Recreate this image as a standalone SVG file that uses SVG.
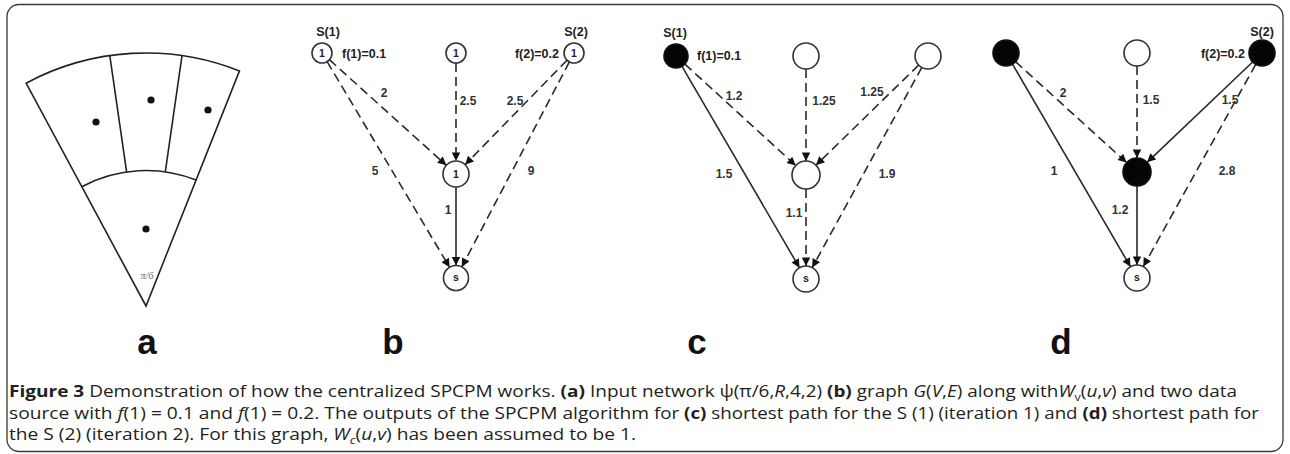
<svg xmlns="http://www.w3.org/2000/svg" width="1290" height="454" viewBox="0 0 1290 454">
  <defs>
    <style>
      .frame{fill:none;stroke:#3a3a3a;stroke-width:1.3}
      .sector{fill:none;stroke:#222;stroke-width:1.6}
      .dot{fill:#111}
      .node{fill:#fff;stroke:#333;stroke-width:1.6}
      .on{fill:#050505;stroke:#111}
      .edge{fill:none;stroke:#2a2a2a;stroke-width:1.6;marker-end:url(#arrow)}
      .dash{stroke-dasharray:9 5}
      .nl{font-family:"Liberation Sans",Arial,sans-serif;font-weight:bold;font-size:10.5px;fill:#222;text-anchor:middle}
      .lab{font-family:"Liberation Sans",Arial,sans-serif;font-weight:bold;font-size:12px;fill:#333;text-anchor:middle}
      .tag{font-family:"Liberation Sans",Arial,sans-serif;font-weight:bold;font-size:12.5px;fill:#222}
      .panel{font-family:"Liberation Sans",Arial,sans-serif;font-weight:bold;font-size:35px;fill:#111;text-anchor:middle}
      .cap{font-family:"Open Sans","Liberation Sans",sans-serif;font-size:16.5px;fill:#231f20}
      .b{font-weight:bold}
      .i{font-style:italic}
    </style>
    <marker id="arrow" viewBox="0 0 10 10" refX="10" refY="5" markerWidth="10" markerHeight="8.5" markerUnits="userSpaceOnUse" orient="auto">
      <path d="M0,0 L10,5 L0,10 z" fill="#111"/>
    </marker>
  </defs>

  <rect class="frame" x="7" y="4.5" width="1276" height="447" rx="12"/>

  <!-- (a) sector network -->
  <g id="sector">
    <path class="sector" d="M146,306 L26.1,83.2 A253,253 0 0 1 239.5,70.9 Z"/>
    <path class="sector" d="M81.8,186.7 A135.5,135.5 0 0 1 196.1,180.1"/>
    <path class="sector" d="M109.8,55.6 L126.6,171.9 M182,55.6 L165.3,171.9"/>
    <circle class="dot" cx="96" cy="122" r="3.6"/>
    <circle class="dot" cx="151" cy="100" r="3.6"/>
    <circle class="dot" cx="208" cy="110" r="3.6"/>
    <circle class="dot" cx="146" cy="229" r="3.6"/>
    <text x="147" y="279" font-family="Liberation Serif,serif" font-style="italic" font-size="10" fill="#666" text-anchor="middle">π/6</text>
  </g>

  <!-- edges -->
  <g id="connectors">
    <!-- (b) -->
    <path class="edge dash" d="M329.4,59.7 L446.3,165.3"/>
    <path class="edge dash" d="M327.1,61.6 L449.6,267.3"/>
    <path class="edge dash" d="M456,63 L456,161"/>
    <path class="edge dash" d="M567,60.2 L465.1,164.7"/>
    <path class="edge dash" d="M569.4,61.9 L461.8,266.9"/>
    <path class="edge" d="M456,187 L456,265.5"/>
    <!-- (c) -->
    <path class="edge dash" d="M684.9,64.1 L795.7,165.5"/>
    <path class="edge" d="M682,66.4 L799.5,267.8"/>
    <path class="edge dash" d="M806,69 L806,161"/>
    <path class="edge dash" d="M918.7,65.1 L816,165.2"/>
    <path class="edge dash" d="M921.8,67.4 L812.2,267.6"/>
    <path class="edge dash" d="M806,189 L806,266"/>
    <!-- (d) -->
    <path class="edge dash" d="M1015.6,61.7 L1126.6,162.6"/>
    <path class="edge" d="M1012.5,64.2 L1130.5,266.8"/>
    <path class="edge dash" d="M1137,66 L1137,158"/>
    <path class="edge" d="M1252.6,62 L1147.1,162.3"/>
    <path class="edge dash" d="M1255.7,64.4 L1143.3,266.6"/>
    <path class="edge" d="M1137,186 L1137,265"/>
  </g>

  <!-- edge weights -->
  <g id="weights">
    <text class="lab" x="384" y="97">2</text>
    <text class="lab" x="375" y="175">5</text>
    <text class="lab" x="468" y="105">2.5</text>
    <text class="lab" x="515" y="105">2.5</text>
    <text class="lab" x="531" y="175">9</text>
    <text class="lab" x="448" y="214">1</text>

    <text class="lab" x="734" y="100">1.2</text>
    <text class="lab" x="724" y="178">1.5</text>
    <text class="lab" x="824" y="105">1.25</text>
    <text class="lab" x="872" y="96">1.25</text>
    <text class="lab" x="887" y="178">1.9</text>
    <text class="lab" x="794" y="217">1.1</text>

    <text class="lab" x="1063" y="97">2</text>
    <text class="lab" x="1054" y="175">1</text>
    <text class="lab" x="1151" y="104">1.5</text>
    <text class="lab" x="1230" y="104">1.5</text>
    <text class="lab" x="1227" y="175">2.8</text>
    <text class="lab" x="1120" y="214">1.2</text>
  </g>

  <!-- (b) graph G(V,E) -->
  <g id="b-s1"><circle class="node" cx="322" cy="53" r="10"/><text class="nl" x="322" y="56.5">1</text>
    <text class="tag" x="328" y="36" text-anchor="middle">S(1)</text><text class="tag" x="342" y="58">f(1)=0.1</text></g>
  <g id="b-top"><circle class="node" cx="456" cy="53" r="10"/><text class="nl" x="456" y="56.5">1</text></g>
  <g id="b-s2"><circle class="node" cx="574" cy="53" r="10"/><text class="nl" x="574" y="56.5">1</text>
    <text class="tag" x="576" y="36" text-anchor="middle">S(2)</text><text class="tag" x="559" y="58" text-anchor="end">f(2)=0.2</text></g>
  <g id="b-mid"><circle class="node" cx="456" cy="174" r="13"/><text class="nl" x="456" y="177.5">1</text></g>
  <g id="b-sink"><circle class="node" cx="456" cy="278" r="12.5"/><text class="nl" x="456" y="281">s</text></g>

  <!-- (c) iteration 1 -->
  <g id="c-s1"><circle class="node on" cx="676" cy="56" r="12"/>
    <text class="tag" x="675" y="37" text-anchor="middle">S(1)</text><text class="tag" x="697" y="60">f(1)=0.1</text></g>
  <g id="c-top"><circle class="node" cx="806" cy="56" r="13"/></g>
  <g id="c-s2"><circle class="node" cx="928" cy="56" r="13"/></g>
  <g id="c-mid"><circle class="node" cx="806" cy="175" r="14"/></g>
  <g id="c-sink"><circle class="node" cx="806" cy="279" r="13"/><text class="nl" x="806" y="282">s</text></g>

  <!-- (d) iteration 2 -->
  <g id="d-s1"><circle class="node on" cx="1006" cy="53" r="13"/></g>
  <g id="d-top"><circle class="node" cx="1137" cy="53" r="13"/></g>
  <g id="d-s2"><circle class="node on" cx="1262" cy="53" r="13"/>
    <text class="tag" x="1262" y="36" text-anchor="middle">S(2)</text><text class="tag" x="1245" y="58" text-anchor="end">f(2)=0.2</text></g>
  <g id="d-mid"><circle class="node on" cx="1137" cy="172" r="14"/></g>
  <g id="d-sink"><circle class="node" cx="1137" cy="278" r="13"/><text class="nl" x="1137" y="281">s</text></g>

  <!-- panel letters -->
  <g id="letters">
    <text class="panel" x="147" y="354">a</text>
    <text class="panel" x="393" y="354">b</text>
    <text class="panel" x="697" y="354">c</text>
    <text class="panel" x="1061" y="354">d</text>
  </g>

  <!-- caption, each line split in two runs to keep the word positions -->
  <g id="caption">
    <text class="cap" x="9" y="397" textLength="628" lengthAdjust="spacingAndGlyphs"><tspan class="b">Figure 3</tspan> Demonstration of how the centralized SPCPM works. <tspan class="b">(a)</tspan> Input</text>
    <text class="cap" x="642" y="397" textLength="595" lengthAdjust="spacingAndGlyphs">network ψ(π/6,<tspan class="i">R</tspan>,4,2) <tspan class="b">(b)</tspan> graph <tspan class="i">G</tspan>(<tspan class="i">V</tspan>,<tspan class="i">E</tspan>) along with<tspan class="i">W</tspan><tspan font-size="11" dy="4">v</tspan><tspan dy="-4">(</tspan><tspan class="i">u</tspan>,<tspan class="i">v</tspan>) and two data</text>
    <text class="cap" x="9" y="419" textLength="640" lengthAdjust="spacingAndGlyphs">source with <tspan class="i">f</tspan>(1) = 0.1 and <tspan class="i">f</tspan>(1) = 0.2. The outputs of the SPCPM algorithm</text>
    <text class="cap" x="654" y="419" textLength="605" lengthAdjust="spacingAndGlyphs">for <tspan class="b">(c)</tspan> shortest path for the S (1) (iteration 1) and <tspan class="b">(d)</tspan> shortest path for</text>
    <text class="cap" x="9" y="440" textLength="627" lengthAdjust="spacingAndGlyphs">the S (2) (iteration 2). For this graph, <tspan class="i">W</tspan><tspan class="i" font-size="11" dy="4">c</tspan><tspan dy="-4">(</tspan><tspan class="i">u</tspan>,<tspan class="i">v</tspan>) has been assumed to be 1.</text>
  </g>
</svg>
